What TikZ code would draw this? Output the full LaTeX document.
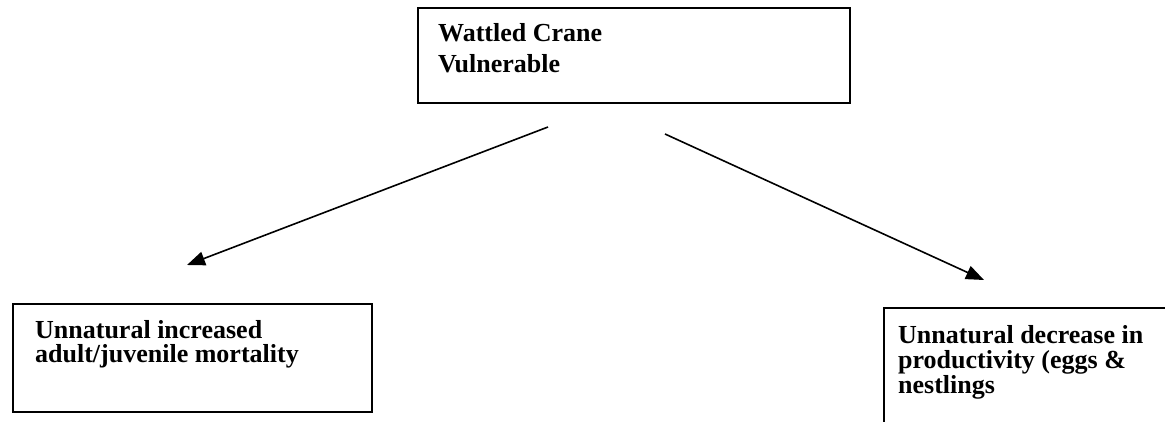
\documentclass[tikz,border=0pt]{standalone}
\usepackage{fontspec}
\setmainfont{Liberation Serif}
\usetikzlibrary{arrows.meta}
\tikzset{
  box/.style={draw=black, line width=2.4pt, fill=none, inner sep=0pt, anchor=north west},
  lbl/.style={anchor=base west, inner sep=0pt, font=\bfseries\fontsize{26}{30}\selectfont},
  conn/.style={line width=1.6pt, -{Triangle[length=18pt,width=14pt]}}
}
\begin{document}
\begin{tikzpicture}[x=1pt,y=-1pt]
\clip (0,0) rectangle (1165,422);
\fill[white] (0,0) rectangle (1165,422);
% boxes
\node[box, minimum width=432pt, minimum height=95pt] (top) at (417,7) {};
\node[box, minimum width=359pt, minimum height=108pt] (left) at (12,303) {};
\node[box, minimum width=300pt, minimum height=130pt] (right) at (883,307) {};
% texts
\node[lbl] (t1) at (438,42) {Wattled Crane};
\node[lbl] (t2) at (438,73) {Vulnerable};
\node[lbl] (l1) at (35,338) {Unnatural increased};
\node[lbl] (l2) at (35,362) {adult/juvenile mortality};
\node[lbl] (r1) at (898,343) {Unnatural decrease in};
\node[lbl] (r2) at (898,368) {productivity (eggs \&};
\node[lbl] (r3) at (898,393) {nestlings};
% connectors
\coordinate (as) at (548,127);
\coordinate (ae) at (187,265);
\coordinate (bs) at (665,134);
\coordinate (be) at (984,280);
\draw[conn] (as) -- (ae);
\draw[conn] (bs) -- (be);
\end{tikzpicture}
\end{document}
